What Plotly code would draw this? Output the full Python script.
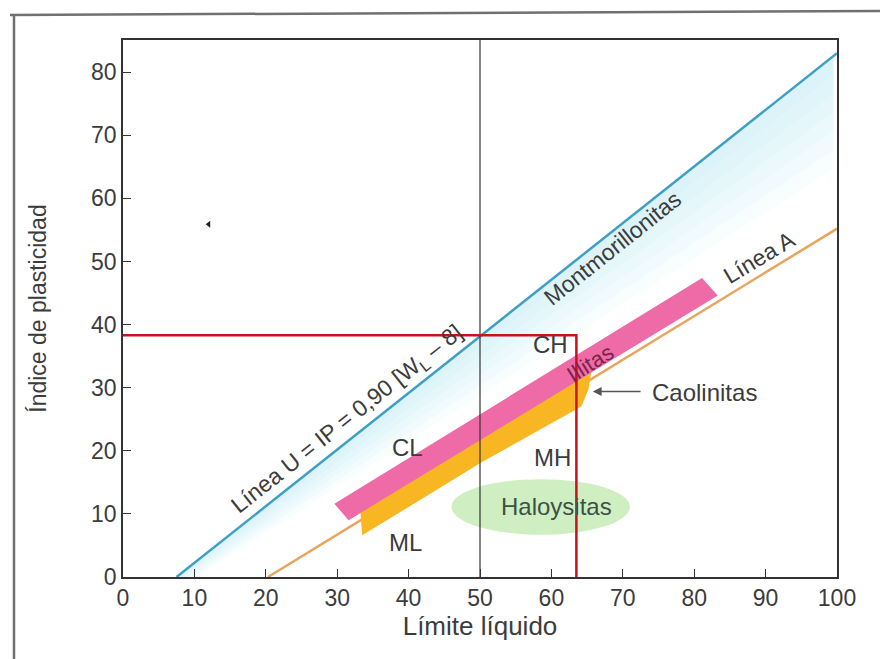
import plotly.graph_objects as go

# Plasticity chart (Casagrande): liquid limit vs plasticity index
X_TICKS = [0, 10, 20, 30, 40, 50, 60, 70, 80, 90, 100]
Y_TICKS = [0, 10, 20, 30, 40, 50, 60, 70, 80]

# Line U and Line A end points (liquid limit, plasticity index)
LINE_U_WL = [7.5, 100]
LINE_U_IP = [0, 83]
LINE_A_WL = [20.3, 100]
LINE_A_IP = [0, 55.2]

# Clay mineral zones
ILLITE_WL = [29.6, 81.1, 83.3, 31.6]
ILLITE_IP = [11.6, 47.4, 44.6, 9.0]
KAOLINITE_WL = [33.2, 33.5, 50.4, 64.2, 65.2, 65.6]
KAOLINITE_IP = [11.0, 6.6, 18.3, 27.0, 29.8, 32.6]
HALLOYSITE_CENTER = [58.5, 11.1]
HALLOYSITE_HALF = [12.5, 4.4]

# Example soil sample: WL = 63.5, IP = 38.3
SAMPLE_WL = 63.5
SAMPLE_IP = 38.3
DIVIDE_WL = 50
MARK_WL = [12.0]
MARK_IP = [55.9]

FONT = "Liberation Sans, Arial, sans-serif"
TXT = "#3c3c3c"
X_MAX = 100
Y_MAX = 85.1

fig = go.Figure()


def u_at(x):
    s = (LINE_U_IP[1] - LINE_U_IP[0]) / (LINE_U_WL[1] - LINE_U_WL[0])
    return LINE_U_IP[0] + s * (x - LINE_U_WL[0])


# faint cyan shading just below line U, widening to the right
N = 6
xs = [LINE_U_WL[0] - 6 + i * 2 for i in range(int((X_MAX - LINE_U_WL[0] + 6) / 2) + 1)]
for k in range(1, N + 1):
    up = [u_at(x) for x in xs]
    w = [(2 + 16 * (x - LINE_U_WL[0]) / (X_MAX - LINE_U_WL[0])) * k / N for x in xs]
    lo = [u - ww for u, ww in zip(up, w)]
    fig.add_trace(go.Scatter(
        x=xs + xs[::-1], y=up + lo[::-1], fill="toself", mode="none",
        fillcolor="rgba(170,230,242,0.08)", hoverinfo="skip", showlegend=False))

# halloysite ellipse
cx, cy = HALLOYSITE_CENTER
rx, ry = HALLOYSITE_HALF
fig.add_shape(type="circle", xref="x", yref="y",
              x0=cx - rx, x1=cx + rx, y0=cy - ry, y1=cy + ry,
              fillcolor="#cfeec2", line=dict(width=0), layer="below")

# line A
fig.add_trace(go.Scatter(x=LINE_A_WL, y=LINE_A_IP, mode="lines",
                         line=dict(color="#e9a45e", width=2.5),
                         hoverinfo="skip", showlegend=False))

# kaolinite band
fig.add_trace(go.Scatter(x=KAOLINITE_WL + [KAOLINITE_WL[0]],
                         y=KAOLINITE_IP + [KAOLINITE_IP[0]],
                         fill="toself", mode="none", fillcolor="#f8b722",
                         hoverinfo="skip", showlegend=False))
# illite band
fig.add_trace(go.Scatter(x=ILLITE_WL + [ILLITE_WL[0]],
                         y=ILLITE_IP + [ILLITE_IP[0]],
                         fill="toself", mode="none", fillcolor="#ef6ba7",
                         hoverinfo="skip", showlegend=False))

# line U
fig.add_trace(go.Scatter(x=LINE_U_WL, y=LINE_U_IP, mode="lines",
                         line=dict(color="#3f9fc5", width=2.5),
                         hoverinfo="skip", showlegend=False))

# WL = 50 divide
fig.add_trace(go.Scatter(x=[DIVIDE_WL, DIVIDE_WL], y=[0, Y_MAX], mode="lines",
                         line=dict(color="#333333", width=1.2),
                         hoverinfo="skip", showlegend=False))

# sample reading lines
fig.add_trace(go.Scatter(x=[0, SAMPLE_WL, SAMPLE_WL], y=[SAMPLE_IP, SAMPLE_IP, 0],
                         mode="lines", line=dict(color="#c8121c", width=2.5),
                         hoverinfo="skip", showlegend=False))

fig.add_trace(go.Scatter(x=MARK_WL, y=MARK_IP, mode="markers",
                         marker=dict(symbol="triangle-left", size=6, color="#222222"),
                         hoverinfo="skip", showlegend=False))


def label(x, y, text, size=24, angle=0, color=TXT):
    fig.add_annotation(x=x, y=y, xref="x", yref="y", text=text, showarrow=False,
                       textangle=angle, font=dict(family=FONT, size=size, color=color))


label(39.8, 20.6, "CL")
label(39.6, 5.4, "ML")
label(60.1, 19.0, "MH")
label(59.9, 36.8, "CH")
label(60.7, 11.1, "Haloysitas", color="#3c5244")
label(31.5, 24.9, "Línea U = IP = 0,90 [W<sub>L</sub> – 8]", size=23, angle=-38.5)
label(68.6, 52.1, "Montmorillonitas", size=23, angle=-38.5)
label(89.2, 50.7, "Línea A", size=23, angle=-31)
label(65.4, 33.9, "Illitas", size=22, angle=-32, color="#7a2448")
label(81.5, 29.2, "Caolinitas")

fig.add_annotation(x=65.8, y=29.4, ax=72.7, ay=29.4, xref="x", yref="y",
                   axref="x", ayref="y", text="", showarrow=True,
                   arrowhead=2, arrowsize=1.1, arrowwidth=1.6, arrowcolor="#555555")

# scanned page border
fig.add_shape(type="line", xref="paper", yref="paper",
              x0=(10 - 123) / 714, x1=(880 - 123) / 714,
              y0=(577 - 15) / 537, y1=(577 - 11) / 537,
              line=dict(color="#707070", width=2.5))
fig.add_shape(type="line", xref="paper", yref="paper",
              x0=(14 - 123) / 714, x1=(14 - 123) / 714,
              y0=(577 - 15) / 537, y1=(577 - 665) / 537,
              line=dict(color="#707070", width=2.5))

axis_common = dict(showgrid=False, zeroline=False, showline=True, mirror=True,
                   linecolor="#333333", linewidth=1.5, ticks="inside", ticklen=8,
                   tickwidth=1.2, tickcolor="#333333",
                   tickfont=dict(family=FONT, size=23, color=TXT))

fig.update_xaxes(range=[0, X_MAX], tickvals=X_TICKS, **axis_common,
                 title=dict(text="Límite líquido", standoff=6,
                            font=dict(family=FONT, size=26, color=TXT)))
fig.update_yaxes(range=[0, Y_MAX], tickvals=Y_TICKS, **axis_common,
                 title=dict(text="Índice de plasticidad", standoff=38,
                            font=dict(family=FONT, size=23, color=TXT)))

fig.update_layout(width=880, height=659,
                  margin=dict(l=123, r=43, t=40, b=82),
                  paper_bgcolor="white", plot_bgcolor="white")

fig.write_html("out.html")
